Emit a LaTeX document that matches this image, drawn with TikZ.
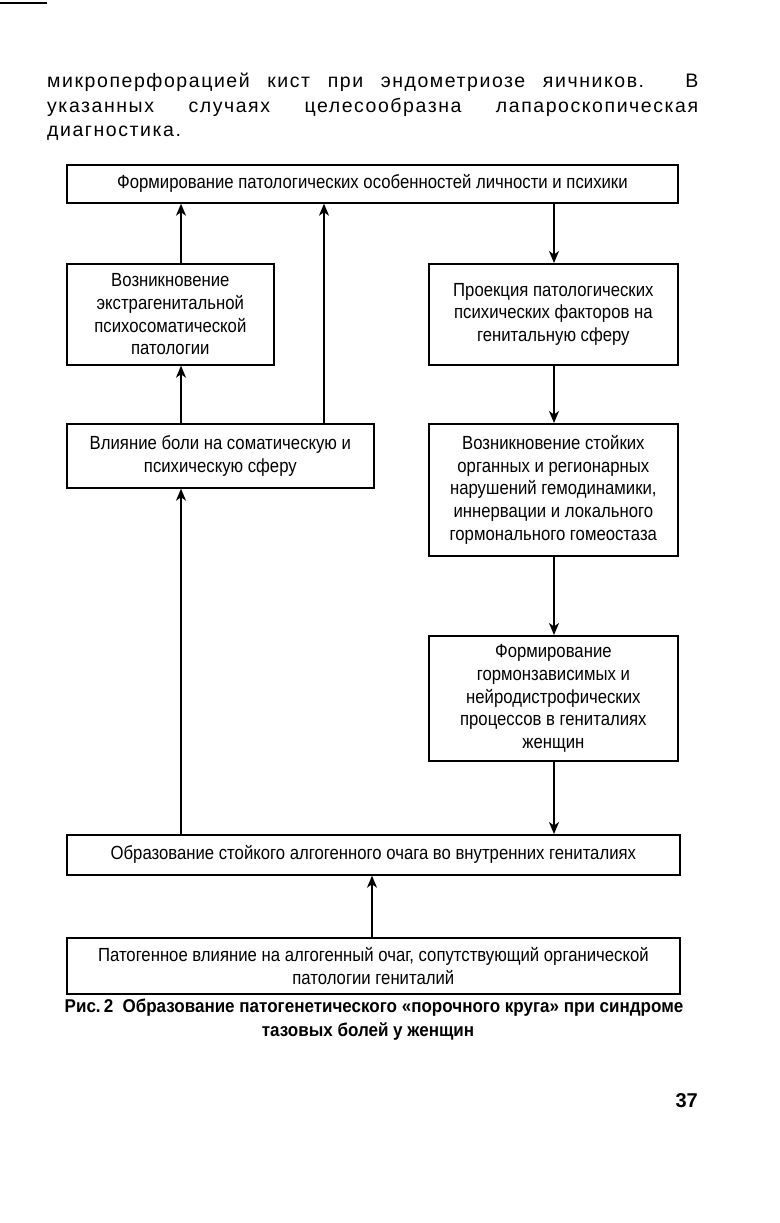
\documentclass[tikz,border=0pt]{standalone}
\usepackage{fontspec}
\setmainfont{Liberation Sans}
\newfontfamily\parafont[LetterSpace=8]{Liberation Sans}
\newfontfamily\condfont[FakeStretch=0.92]{Liberation Sans}
\newfontfamily\boxfont[FakeStretch=0.88]{Liberation Sans}
\usetikzlibrary{arrows.meta,calc}
\begin{document}
\begin{tikzpicture}[x=1pt,y=-1pt,
  blk/.style={draw,line width=1.7pt,anchor=north west,inner sep=0pt,align=center,
    font=\boxfont\fontsize{19}{22.8}\selectfont},
  arr/.style={line width=1.4pt,-{Stealth[length=12pt,width=10pt,inset=3.5pt]}},
  ptext/.style={anchor=base west,inner sep=0pt,font=\parafont\fontsize{19.5}{23.5}\selectfont},
  captext/.style={anchor=base,inner sep=0pt,font=\condfont\bfseries\fontsize{18.5}{22}\selectfont}]
\useasboundingbox (0,0) rectangle (779,1223);
\draw[line width=1.6pt] (0,3) -- (47,3);
% paragraph
\node[ptext] (p1) at (47,88) {\makebox[651pt][s]{микроперфорацией кист при эндометриозе яичников. В}};
\node[ptext] (p2) at (47,112) {\makebox[651pt][s]{указанных случаях целесообразна лапароскопическая}};
\node[ptext] (p3) at (47,136) {диагностика.};
% boxes
\node[blk,minimum width=611pt,minimum height=38pt] (top) at (66,164)
  {Формирование патологических особенностей личности и психики};
\node[blk,minimum width=207pt,minimum height=101pt] (A) at (66,263)
  {Возникновение\\экстрагенитальной\\психосоматической\\патологии};
\node[blk,minimum width=249pt,minimum height=101pt] (B) at (428,263)
  {Проекция патологических\\психических факторов на\\генитальную сферу};
\node[blk,minimum width=307pt,minimum height=64pt] (C) at (66,423)
  {Влияние боли на соматическую и\\психическую сферу};
\node[blk,minimum width=249pt,minimum height=132pt] (D) at (428,423)
  {Возникновение стойких\\органных и регионарных\\нарушений гемодинамики,\\иннервации и локального\\гормонального гомеостаза};
\node[blk,minimum width=249pt,minimum height=125pt] (E) at (428,635)
  {Формирование\\гормонзависимых и\\нейродистрофических\\процессов в гениталиях\\женщин};
\node[blk,minimum width=613pt,minimum height=40pt] (F) at (66,834)
  {Образование стойкого алгогенного очага во внутренних гениталиях};
\node[blk,minimum width=613pt,minimum height=56pt] (G) at (66,937)
  {Патогенное влияние на алгогенный очаг, сопутствующий органической\\патологии гениталий};
% x positions of connectors
\coordinate (xa) at (181,0);
\coordinate (xb) at (324,0);
\coordinate (xr) at (554,0);
\coordinate (xg) at (372,0);
% connectors
\draw[arr] (A.north -| xa) -- (top.south -| xa);
\draw[arr] (C.north -| xb) -- (top.south -| xb);
\draw[arr] (top.south -| xr) -- (B.north -| xr);
\draw[arr] (C.north -| xa) -- (A.south -| xa);
\draw[arr] (B.south -| xr) -- (D.north -| xr);
\draw[arr] (D.south -| xr) -- (E.north -| xr);
\draw[arr] (E.south -| xr) -- (F.north -| xr);
\draw[arr] (F.north -| xa) -- (C.south -| xa);
\draw[arr] (G.north -| xg) -- (F.south -| xg);
% caption
\node[captext] (c1) at (374,1012) {Рис.\,2\enspace Образование патогенетического «порочного круга» при синдроме};
\node[captext] (c2) at (368,1036) {тазовых болей у женщин};
\node[anchor=base east,inner sep=0pt,font=\bfseries\fontsize{20}{24}\selectfont] (pg) at (698,1107) {37};
\end{tikzpicture}
\end{document}
